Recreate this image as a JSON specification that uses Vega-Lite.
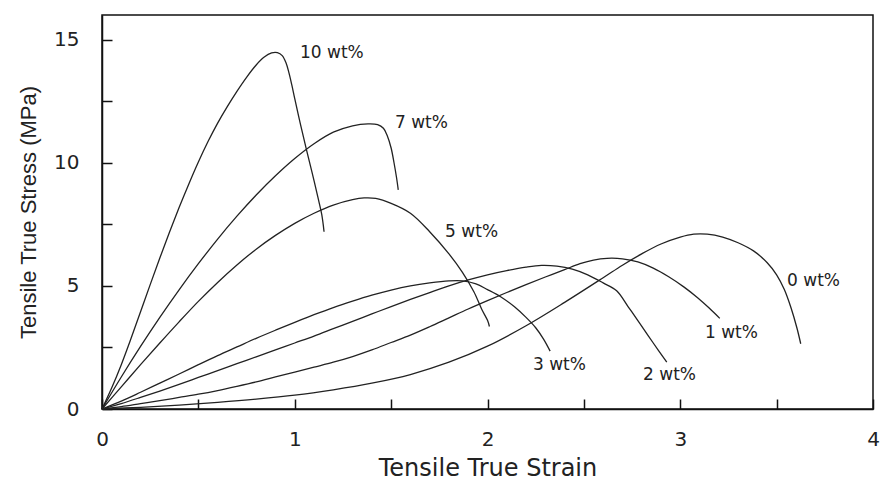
{
  "$schema": "https://vega.github.io/schema/vega-lite/v6.json",
  "width": 771,
  "height": 394,
  "autosize": {"type": "none"},
  "padding": {"left": 102, "top": 15, "right": 9, "bottom": 72},
  "background": "white",
  "config": {"view": {"stroke": "#111", "strokeWidth": 1.5}, "axis": {"grid": false}},
  "datasets": {
    "curves": [
      {"s":"10 wt%","x":0,"y":0},{"s":"10 wt%","x":0.05,"y":0.85},{"s":"10 wt%","x":0.1,"y":1.8},{"s":"10 wt%","x":0.15,"y":2.85},{"s":"10 wt%","x":0.2,"y":3.95},{"s":"10 wt%","x":0.25,"y":5.05},{"s":"10 wt%","x":0.3,"y":6.13},{"s":"10 wt%","x":0.35,"y":7.18},{"s":"10 wt%","x":0.4,"y":8.18},{"s":"10 wt%","x":0.45,"y":9.13},{"s":"10 wt%","x":0.5,"y":10.03},{"s":"10 wt%","x":0.55,"y":10.86},{"s":"10 wt%","x":0.6,"y":11.61},{"s":"10 wt%","x":0.65,"y":12.28},{"s":"10 wt%","x":0.7,"y":12.9},{"s":"10 wt%","x":0.75,"y":13.47},{"s":"10 wt%","x":0.8,"y":13.97},{"s":"10 wt%","x":0.84,"y":14.28},{"s":"10 wt%","x":0.88,"y":14.46},{"s":"10 wt%","x":0.91,"y":14.47},{"s":"10 wt%","x":0.935,"y":14.35},{"s":"10 wt%","x":0.955,"y":14.05},{"s":"10 wt%","x":0.97,"y":13.65},{"s":"10 wt%","x":0.985,"y":13.15},{"s":"10 wt%","x":1.0,"y":12.6},{"s":"10 wt%","x":1.03,"y":11.55},{"s":"10 wt%","x":1.06,"y":10.55},{"s":"10 wt%","x":1.09,"y":9.6},{"s":"10 wt%","x":1.12,"y":8.6},{"s":"10 wt%","x":1.14,"y":7.9},{"s":"10 wt%","x":1.152,"y":7.2},
      {"s":"7 wt%","x":0,"y":0},{"s":"7 wt%","x":0.1,"y":1.3},{"s":"7 wt%","x":0.2,"y":2.54},{"s":"7 wt%","x":0.3,"y":3.72},{"s":"7 wt%","x":0.4,"y":4.84},{"s":"7 wt%","x":0.5,"y":5.9},{"s":"7 wt%","x":0.6,"y":6.9},{"s":"7 wt%","x":0.7,"y":7.83},{"s":"7 wt%","x":0.8,"y":8.69},{"s":"7 wt%","x":0.9,"y":9.47},{"s":"7 wt%","x":1.0,"y":10.17},{"s":"7 wt%","x":1.1,"y":10.77},{"s":"7 wt%","x":1.2,"y":11.24},{"s":"7 wt%","x":1.3,"y":11.5},{"s":"7 wt%","x":1.38,"y":11.58},{"s":"7 wt%","x":1.43,"y":11.55},{"s":"7 wt%","x":1.46,"y":11.4},{"s":"7 wt%","x":1.48,"y":11.1},{"s":"7 wt%","x":1.5,"y":10.6},{"s":"7 wt%","x":1.515,"y":10.0},{"s":"7 wt%","x":1.528,"y":9.4},{"s":"7 wt%","x":1.537,"y":8.9},
      {"s":"5 wt%","x":0,"y":0},{"s":"5 wt%","x":0.1,"y":0.9},{"s":"5 wt%","x":0.2,"y":1.8},{"s":"5 wt%","x":0.3,"y":2.68},{"s":"5 wt%","x":0.4,"y":3.54},{"s":"5 wt%","x":0.5,"y":4.37},{"s":"5 wt%","x":0.6,"y":5.14},{"s":"5 wt%","x":0.7,"y":5.85},{"s":"5 wt%","x":0.8,"y":6.49},{"s":"5 wt%","x":0.9,"y":7.05},{"s":"5 wt%","x":1.0,"y":7.54},{"s":"5 wt%","x":1.1,"y":7.95},{"s":"5 wt%","x":1.2,"y":8.28},{"s":"5 wt%","x":1.3,"y":8.5},{"s":"5 wt%","x":1.36,"y":8.57},{"s":"5 wt%","x":1.42,"y":8.55},{"s":"5 wt%","x":1.5,"y":8.35},{"s":"5 wt%","x":1.6,"y":7.95},{"s":"5 wt%","x":1.7,"y":7.2},{"s":"5 wt%","x":1.8,"y":6.3},{"s":"5 wt%","x":1.87,"y":5.55},{"s":"5 wt%","x":1.93,"y":4.75},{"s":"5 wt%","x":1.97,"y":4.05},{"s":"5 wt%","x":2.0,"y":3.6},{"s":"5 wt%","x":2.01,"y":3.35},
      {"s":"3 wt%","x":0,"y":0},{"s":"3 wt%","x":0.1,"y":0.32},{"s":"3 wt%","x":0.2,"y":0.68},{"s":"3 wt%","x":0.3,"y":1.05},{"s":"3 wt%","x":0.4,"y":1.42},{"s":"3 wt%","x":0.5,"y":1.8},{"s":"3 wt%","x":0.6,"y":2.17},{"s":"3 wt%","x":0.7,"y":2.52},{"s":"3 wt%","x":0.8,"y":2.87},{"s":"3 wt%","x":0.9,"y":3.2},{"s":"3 wt%","x":1.0,"y":3.52},{"s":"3 wt%","x":1.1,"y":3.83},{"s":"3 wt%","x":1.2,"y":4.12},{"s":"3 wt%","x":1.3,"y":4.38},{"s":"3 wt%","x":1.4,"y":4.62},{"s":"3 wt%","x":1.5,"y":4.83},{"s":"3 wt%","x":1.6,"y":5.0},{"s":"3 wt%","x":1.7,"y":5.12},{"s":"3 wt%","x":1.8,"y":5.2},{"s":"3 wt%","x":1.87,"y":5.2},{"s":"3 wt%","x":1.94,"y":5.08},{"s":"3 wt%","x":2.0,"y":4.85},{"s":"3 wt%","x":2.07,"y":4.55},{"s":"3 wt%","x":2.14,"y":4.15},{"s":"3 wt%","x":2.2,"y":3.72},{"s":"3 wt%","x":2.25,"y":3.3},{"s":"3 wt%","x":2.29,"y":2.85},{"s":"3 wt%","x":2.325,"y":2.35},
      {"s":"2 wt%","x":0,"y":0},{"s":"2 wt%","x":0.1,"y":0.22},{"s":"2 wt%","x":0.2,"y":0.47},{"s":"2 wt%","x":0.3,"y":0.73},{"s":"2 wt%","x":0.4,"y":1.0},{"s":"2 wt%","x":0.5,"y":1.28},{"s":"2 wt%","x":0.6,"y":1.56},{"s":"2 wt%","x":0.7,"y":1.84},{"s":"2 wt%","x":0.8,"y":2.12},{"s":"2 wt%","x":0.9,"y":2.4},{"s":"2 wt%","x":1.0,"y":2.68},{"s":"2 wt%","x":1.1,"y":2.96},{"s":"2 wt%","x":1.2,"y":3.26},{"s":"2 wt%","x":1.3,"y":3.56},{"s":"2 wt%","x":1.4,"y":3.86},{"s":"2 wt%","x":1.5,"y":4.16},{"s":"2 wt%","x":1.6,"y":4.45},{"s":"2 wt%","x":1.7,"y":4.73},{"s":"2 wt%","x":1.8,"y":5.0},{"s":"2 wt%","x":1.9,"y":5.24},{"s":"2 wt%","x":2.0,"y":5.45},{"s":"2 wt%","x":2.1,"y":5.62},{"s":"2 wt%","x":2.2,"y":5.76},{"s":"2 wt%","x":2.28,"y":5.83},{"s":"2 wt%","x":2.36,"y":5.8},{"s":"2 wt%","x":2.44,"y":5.68},{"s":"2 wt%","x":2.52,"y":5.45},{"s":"2 wt%","x":2.6,"y":5.12},{"s":"2 wt%","x":2.67,"y":4.8},{"s":"2 wt%","x":2.73,"y":4.15},{"s":"2 wt%","x":2.79,"y":3.48},{"s":"2 wt%","x":2.86,"y":2.68},{"s":"2 wt%","x":2.93,"y":1.9},
      {"s":"1 wt%","x":0,"y":0},{"s":"1 wt%","x":0.1,"y":0.1},{"s":"1 wt%","x":0.2,"y":0.22},{"s":"1 wt%","x":0.3,"y":0.34},{"s":"1 wt%","x":0.4,"y":0.47},{"s":"1 wt%","x":0.5,"y":0.6},{"s":"1 wt%","x":0.6,"y":0.75},{"s":"1 wt%","x":0.7,"y":0.92},{"s":"1 wt%","x":0.8,"y":1.1},{"s":"1 wt%","x":0.9,"y":1.3},{"s":"1 wt%","x":1.0,"y":1.5},{"s":"1 wt%","x":1.1,"y":1.7},{"s":"1 wt%","x":1.2,"y":1.9},{"s":"1 wt%","x":1.3,"y":2.13},{"s":"1 wt%","x":1.4,"y":2.4},{"s":"1 wt%","x":1.5,"y":2.7},{"s":"1 wt%","x":1.6,"y":3.0},{"s":"1 wt%","x":1.7,"y":3.34},{"s":"1 wt%","x":1.8,"y":3.7},{"s":"1 wt%","x":1.9,"y":4.06},{"s":"1 wt%","x":2.0,"y":4.4},{"s":"1 wt%","x":2.1,"y":4.73},{"s":"1 wt%","x":2.2,"y":5.05},{"s":"1 wt%","x":2.3,"y":5.36},{"s":"1 wt%","x":2.4,"y":5.66},{"s":"1 wt%","x":2.48,"y":5.9},{"s":"1 wt%","x":2.55,"y":6.05},{"s":"1 wt%","x":2.62,"y":6.12},{"s":"1 wt%","x":2.7,"y":6.1},{"s":"1 wt%","x":2.78,"y":5.97},{"s":"1 wt%","x":2.86,"y":5.72},{"s":"1 wt%","x":2.94,"y":5.37},{"s":"1 wt%","x":3.02,"y":4.95},{"s":"1 wt%","x":3.09,"y":4.52},{"s":"1 wt%","x":3.15,"y":4.1},{"s":"1 wt%","x":3.205,"y":3.68},
      {"s":"0 wt%","x":0,"y":0},{"s":"0 wt%","x":0.2,"y":0.07},{"s":"0 wt%","x":0.4,"y":0.16},{"s":"0 wt%","x":0.6,"y":0.27},{"s":"0 wt%","x":0.8,"y":0.4},{"s":"0 wt%","x":1.0,"y":0.56},{"s":"0 wt%","x":1.2,"y":0.78},{"s":"0 wt%","x":1.4,"y":1.05},{"s":"0 wt%","x":1.6,"y":1.4},{"s":"0 wt%","x":1.8,"y":1.9},{"s":"0 wt%","x":2.0,"y":2.55},{"s":"0 wt%","x":2.2,"y":3.38},{"s":"0 wt%","x":2.4,"y":4.33},{"s":"0 wt%","x":2.6,"y":5.33},{"s":"0 wt%","x":2.7,"y":5.84},{"s":"0 wt%","x":2.8,"y":6.3},{"s":"0 wt%","x":2.9,"y":6.7},{"s":"0 wt%","x":3.0,"y":6.98},{"s":"0 wt%","x":3.07,"y":7.1},{"s":"0 wt%","x":3.14,"y":7.1},{"s":"0 wt%","x":3.22,"y":6.98},{"s":"0 wt%","x":3.3,"y":6.75},{"s":"0 wt%","x":3.38,"y":6.42},{"s":"0 wt%","x":3.45,"y":5.95},{"s":"0 wt%","x":3.5,"y":5.45},{"s":"0 wt%","x":3.54,"y":4.85},{"s":"0 wt%","x":3.575,"y":4.1},{"s":"0 wt%","x":3.605,"y":3.3},{"s":"0 wt%","x":3.625,"y":2.65}
    ],
    "labels": [
      {"label":"10 wt%","x":1.027,"y":14.45},
      {"label":"7 wt%","x":1.52,"y":11.62},
      {"label":"5 wt%","x":1.78,"y":7.17},
      {"label":"0 wt%","x":3.554,"y":5.19},
      {"label":"1 wt%","x":3.128,"y":3.09},
      {"label":"2 wt%","x":2.807,"y":1.39},
      {"label":"3 wt%","x":2.236,"y":1.79}
    ]
  },
  "layer": [
    {
      "data": {"name": "curves"},
      "mark": {"type": "line", "interpolate": "catmull-rom", "color": "#222", "strokeWidth": 1.3},
      "encoding": {
        "x": {
          "field": "x", "type": "quantitative",
          "scale": {"domain": [0, 4], "nice": false, "zero": false},
          "axis": {
            "title": "Tensile True Strain",
            "values": [0, 0.5, 1, 1.5, 2, 2.5, 3, 3.5, 4],
            "labelExpr": "datum.value % 1 === 0 ? format(datum.value, 'd') : ''",
            "tickSize": -10, "tickColor": "#111", "tickWidth": 1.5,
            "domainColor": "#111", "domainWidth": 1.5,
            "labelFont": "DejaVu Sans", "labelFontSize": 20, "labelColor": "#222",
            "labelPadding": 30, "labelFlush": false, "labelOverlap": false,
            "titleFont": "DejaVu Sans", "titleFontSize": 24, "titleFontWeight": "normal", "titleColor": "#222",
            "titleY": 66, "titleBaseline": "alphabetic"
          }
        },
        "y": {
          "field": "y", "type": "quantitative",
          "scale": {"domain": [0, 16], "nice": false},
          "axis": {
            "title": "Tensile True Stress (MPa)",
            "values": [0, 2.5, 5, 7.5, 10, 12.5, 15],
            "labelExpr": "datum.value % 5 === 0 ? format(datum.value, 'd') : ''",
            "tickSize": -10, "tickColor": "#111", "tickWidth": 1.5,
            "domainColor": "#111", "domainWidth": 1.5,
            "labelFont": "DejaVu Sans", "labelFontSize": 20, "labelColor": "#222",
            "labelPadding": 33, "labelFlush": false, "labelOverlap": false,
            "titleFont": "Liberation Sans", "titleFontSize": 22, "titleFontWeight": "normal", "titleColor": "#222",
            "titleX": -67, "titleY": 197, "titleBaseline": "alphabetic", "titleAngle": -90
          }
        },
        "detail": {"field": "s"}
      }
    },
    {
      "data": {"name": "labels"},
      "mark": {"type": "text", "align": "left", "baseline": "middle", "font": "DejaVu Sans", "fontSize": 17, "color": "#222"},
      "encoding": {
        "x": {"field": "x", "type": "quantitative"},
        "y": {"field": "y", "type": "quantitative"},
        "text": {"field": "label"}
      }
    }
  ]
}
